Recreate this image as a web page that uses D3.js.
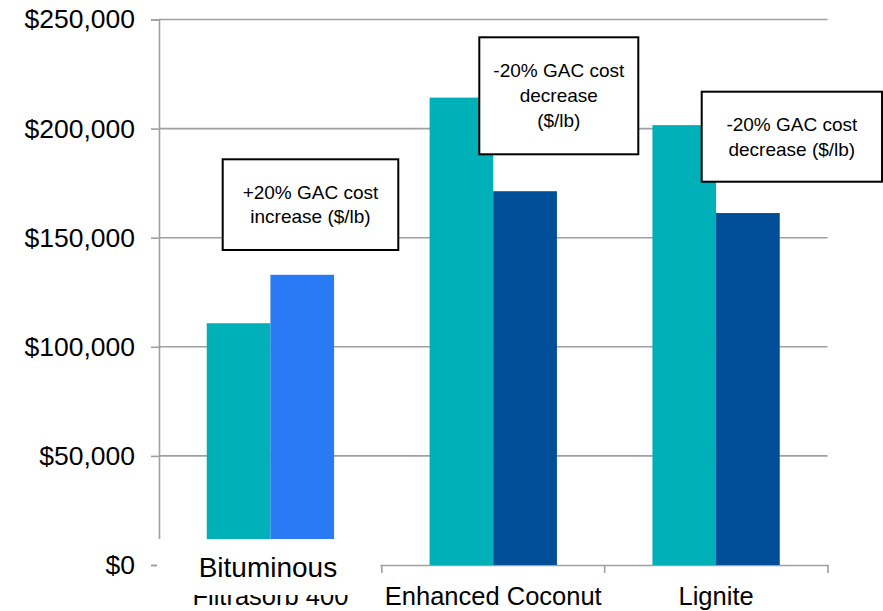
<!DOCTYPE html>
<html>
<head>
<meta charset="utf-8">
<script src="https://cdn.jsdelivr.net/npm/d3@7"></script>
<style>
  html, body { margin: 0; padding: 0; background: #fff; }
  svg { display: block; }
  text { font-family: "Liberation Sans", Arial, sans-serif; fill: #000; }
</style>
</head>
<body>
<svg id="chart" width="883" height="611"></svg>
<script>
// ---- data ----
const categories = ["Bituminous Filtrasorb 400", "Enhanced Coconut", "Lignite"];
const categoryLines = [["Bituminous", "Filtrasorb 400"], ["Enhanced Coconut"], ["Lignite"]];
const baseCost = [110800, 214200, 201600];        // baseline GAC cost
const adjustedCost = [133000, 171300, 161300];    // GAC cost after the $/lb change
const yTicks = [0, 50000, 100000, 150000, 200000, 250000];
const notes = [
  ["+20% GAC cost", "increase ($/lb)"],
  ["-20% GAC cost", "decrease", "($/lb)"],
  ["-20% GAC cost", "decrease ($/lb)"]
];

// ---- styling / layout ----
const colBase = "#00b0b9";
const colAdjusted = ["#2a7af6", "#004d98", "#004d98"];
const gridColor = "#a0a0a0";
const plot = { left: 159, right: 827.5, top: 19.5, bottom: 565 };
const noteBoxes = [
  { x0: 222.7, y0: 159.3, x1: 398.3, y1: 250, lh: 24 },
  { x0: 479.3, y0: 37.3, x1: 638.3, y1: 154.3, lh: 25 },
  { x0: 701.7, y0: 91.7, x1: 882, y1: 181.7, lh: 24.5 }
];

const svg = d3.select("#chart");

const x = d3.scaleBand()
  .domain(categories)
  .range([plot.left, plot.right])
  .paddingInner(3 / 7)
  .paddingOuter(3 / 14);

const xSeries = d3.scaleBand()
  .domain(["base", "adjusted"])
  .range([0, x.bandwidth()])
  .padding(0);

const y = d3.scaleLinear()
  .domain([0, 250000])
  .range([plot.bottom, plot.top]);

// horizontal gridlines
svg.append("g").selectAll("line")
  .data(yTicks.filter(d => d > 0))
  .join("line")
  .attr("x1", plot.left).attr("x2", plot.right)
  .attr("y1", d => y(d)).attr("y2", d => y(d))
  .attr("stroke", gridColor).attr("stroke-width", 1.6);

// y axis
const yAxis = svg.append("g")
  .attr("transform", `translate(${plot.left},0)`)
  .call(d3.axisLeft(y).tickValues(yTicks).tickFormat(d3.format("$,")).tickSize(8).tickPadding(16));
yAxis.select(".domain").attr("stroke", gridColor).attr("stroke-width", 1.6);
yAxis.selectAll(".tick line").attr("stroke", gridColor).attr("stroke-width", 1.6);
yAxis.selectAll(".tick text")
  .attr("font-size", 26.5)
  .attr("font-family", "Liberation Sans, Arial, sans-serif")
  .attr("fill", "#000");

// x axis line with category boundary ticks
const xAxis = svg.append("g")
  .attr("transform", `translate(0,${plot.bottom})`)
  .call(d3.axisBottom(x).tickSize(0).tickSizeOuter(8).tickFormat(""));
xAxis.select(".domain").attr("stroke", gridColor).attr("stroke-width", 1.6).attr("fill", "none");
xAxis.selectAll(".tick").remove();
xAxis.selectAll("line.boundary")
  .data(categories.slice(1))
  .join("line")
  .attr("class", "boundary")
  .attr("x1", d => x(d) - x.step() * x.paddingInner() / 2)
  .attr("x2", d => x(d) - x.step() * x.paddingInner() / 2)
  .attr("y1", 0).attr("y2", 8)
  .attr("stroke", gridColor).attr("stroke-width", 1.6);

// bars
const groups = svg.append("g").selectAll("g")
  .data(categories)
  .join("g")
  .attr("transform", d => `translate(${x(d)},0)`);

groups.append("rect")
  .attr("x", xSeries("base"))
  .attr("width", xSeries.bandwidth())
  .attr("y", (d, i) => y(baseCost[i]))
  .attr("height", (d, i) => y(0) - y(baseCost[i]))
  .attr("fill", colBase);

groups.append("rect")
  .attr("x", xSeries("adjusted"))
  .attr("width", xSeries.bandwidth())
  .attr("y", (d, i) => y(adjustedCost[i]))
  .attr("height", (d, i) => y(0) - y(adjustedCost[i]))
  .attr("fill", (d, i) => colAdjusted[i]);

// category labels (last line of each name on the axis row)
svg.append("g").selectAll("text")
  .data(categories)
  .join("text")
  .attr("x", d => x(d) + x.bandwidth() / 2)
  .attr("y", 605)
  .attr("text-anchor", "middle")
  .attr("font-size", 25.5)
  .text((d, i) => categoryLines[i][categoryLines[i].length - 1]);

// label panel for the first category, laid over the lower part of its bars
const c0 = categories[0];
svg.append("rect")
  .attr("x", 157).attr("y", 539)
  .attr("width", x(c0) - x.step() * x.paddingOuter() + x.step() - 157 - 1.5)
  .attr("height", 56)
  .attr("fill", "#fff");
svg.append("text")
  .attr("x", x(c0) + x.bandwidth() / 2 - 2.5)
  .attr("y", 577)
  .attr("text-anchor", "middle")
  .attr("font-size", 28)
  .text(categoryLines[0][0]);

// annotation boxes
const note = svg.append("g").selectAll("g")
  .data(noteBoxes)
  .join("g");

note.append("rect")
  .attr("x", d => d.x0).attr("y", d => d.y0)
  .attr("width", d => d.x1 - d.x0).attr("height", d => d.y1 - d.y0)
  .attr("fill", "#fff").attr("stroke", "#000").attr("stroke-width", 2);

note.each(function (d, i) {
  const lines = notes[i];
  const cx = (d.x0 + d.x1) / 2;
  const cy = (d.y0 + d.y1) / 2;
  const first = cy - (lines.length - 1) * d.lh / 2;
  d3.select(this).selectAll("text")
    .data(lines)
    .join("text")
    .attr("x", cx)
    .attr("y", (t, k) => first + k * d.lh)
    .attr("dy", "0.35em")
    .attr("text-anchor", "middle")
    .attr("font-size", 19)
    .text(t => t);
});
</script>
</body>
</html>
